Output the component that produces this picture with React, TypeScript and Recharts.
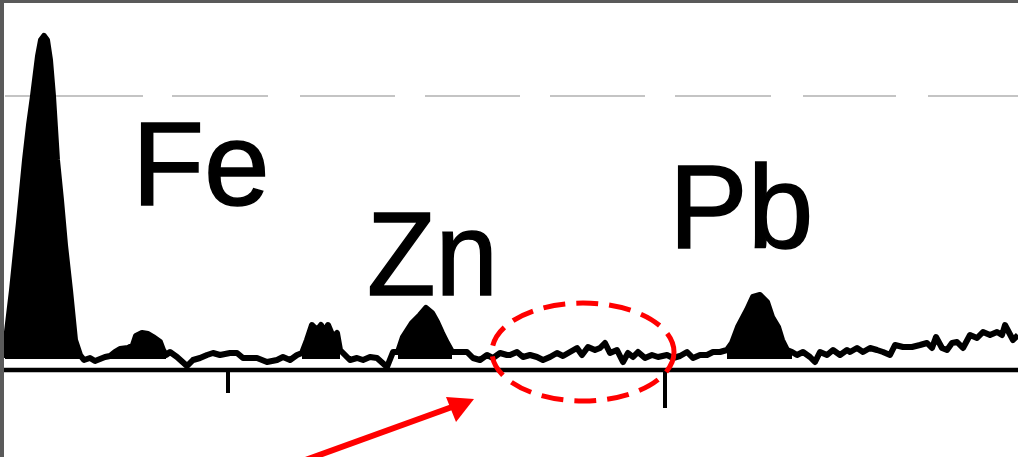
import React from "react";
import { ComposedChart, Line, Area, XAxis, YAxis, ReferenceLine } from "recharts";

// channel positions and counts
const channels = [
  5, 6, 12, 19, 25, 29, 33, 38, 41, 44, 47, 50, 53, 57, 61, 65, 70, 75, 80, 84,
  90, 95, 100, 105, 110, 115, 120, 128, 133, 136, 142, 148, 153, 160, 163, 166, 170,
  177, 187, 193, 200, 207, 213, 220, 230, 237, 243, 250, 257, 267, 277, 283, 290, 297,
  302, 307, 312, 317, 321, 325, 328, 333, 337, 340, 345, 350, 357, 363, 370, 377, 387,
  393, 398, 403, 412, 420, 426, 432, 437, 442, 447, 452, 460, 467, 473, 480, 487, 493,
  500, 507, 510, 517, 523, 530, 537, 543, 550, 557, 563, 570, 577, 582, 588, 595, 600,
  605, 610, 617, 623, 628, 633, 638, 645, 652, 658, 667, 673, 680, 687, 693, 700, 707,
  713, 720, 727, 732, 738, 747, 753, 760, 767, 772, 778, 782, 787, 792, 797, 803, 810,
  815, 820, 827, 833, 840, 847, 850, 857, 863, 870, 877, 883, 890, 895, 903, 912, 920,
  927, 932, 936, 942, 947, 952, 957, 963, 970, 977, 983, 990, 997, 1002, 1005, 1013, 1018,
];
const countsPix = [
  358, 340, 290, 222, 160, 125, 96, 56, 40, 36, 40, 60, 96, 160, 200, 245, 290, 340, 355, 360,
  358, 361, 359, 357, 356, 352, 349, 348, 345, 336, 333, 334, 337, 342, 350, 355, 352,
  357, 366, 360, 358, 355, 353, 355, 353, 353, 358, 358, 358, 362, 360, 357, 360, 355,
  353, 340, 325, 330, 325, 332, 325, 337, 333, 350, 355, 360, 358, 360, 357, 358, 367,
  352, 352, 337, 323, 315, 308, 313, 322, 333, 343, 352, 352, 352, 358, 360, 355, 358,
  353, 355, 355, 352, 357, 355, 357, 360, 357, 353, 356, 352, 348, 355, 347, 350, 348,
  343, 353, 350, 362, 353, 357, 352, 358, 355, 357, 355, 358, 356, 352, 358, 355, 355,
  352, 352, 350, 343, 327, 310, 297, 295, 302, 317, 327, 340, 350, 352, 355, 352, 357,
  362, 352, 355, 350, 355, 350, 352, 348, 352, 348, 350, 352, 355, 345, 347, 347, 345,
  343, 348, 337, 348, 350, 343, 342, 348, 335, 338, 332, 335, 332, 335, 325, 340, 335,
];
// intensities (axis at 0)
const counts = countsPix.map((p) => 370 - p);

// channel ranges of the filled peaks
const peakRanges: [number, number][] = [
  [5, 84],
  [110, 168],
  [300, 342],
  [398, 452],
  [727, 792],
];
const peakBase = 11;

const data = channels.map((x, i) => {
  const inPeak = peakRanges.some(([a, b]) => x >= a && x <= b);
  return { x, counts: counts[i], peak: inPeak ? counts[i] : null };
});

const W = 1018;
const H = 457;

export default function App() {
  return (
    <div style={{ position: "absolute", left: 0, top: 0, width: W, height: H, background: "#fff", overflow: "hidden" }}>
      <svg width={W} height={H} style={{ position: "absolute", left: 0, top: 0 }}>
        <line
          x1={5}
          y1={96}
          x2={W}
          y2={96}
          stroke="#c4c4c4"
          strokeWidth={2}
          strokeDasharray="138 29 96 32 95 30 95 30 95 30 96 32 93 32 200"
        />
      </svg>
      <div style={{ position: "absolute", left: 0, top: 0 }}>
        <ComposedChart width={W} height={H} data={data} margin={{ top: 0, right: 0, bottom: 0, left: 0 }}>
          <XAxis type="number" dataKey="x" domain={[0, 1018]} hide allowDataOverflow />
          <YAxis type="number" domain={[-87, 370]} hide allowDataOverflow />
          <Area
            type="linear"
            dataKey="peak"
            baseValue={peakBase}
            fill="#000"
            fillOpacity={1}
            stroke="#000"
            strokeWidth={1}
            connectNulls={false}
            isAnimationActive={false}
          />
          <Line
            type="linear"
            dataKey="counts"
            stroke="#000"
            strokeWidth={6}
            strokeLinejoin="round"
            dot={false}
            isAnimationActive={false}
          />
          <ReferenceLine y={0} stroke="#000" strokeWidth={4.5} />
          <ReferenceLine segment={[{ x: 228, y: 0 }, { x: 228, y: -23 }]} stroke="#000" strokeWidth={4} />
          <ReferenceLine segment={[{ x: 665, y: 0 }, { x: 665, y: -38 }]} stroke="#000" strokeWidth={4} />
        </ComposedChart>
      </div>
      <svg width={W} height={H} style={{ position: "absolute", left: 0, top: 0, pointerEvents: "none" }}>
        <g fontFamily="'Liberation Sans', Arial, sans-serif" fontSize={118} fill="#000" stroke="#000" strokeWidth={1.5}>
          <text x={132} y={205}>Fe</text>
          <text x={367} y={295} textLength={131} lengthAdjust="spacingAndGlyphs">Zn</text>
          <text x={669} y={248}>Pb</text>
        </g>
        <ellipse cx={583} cy={352} rx={91} ry={49} fill="none" stroke="#ff0000" strokeWidth={5} strokeDasharray="22 11" />
        <line x1={300} y1={462} x2={452} y2={407} stroke="#ff0000" strokeWidth={6} />
        <polygon points="474,399 446,397 456,422" fill="#ff0000" />
      </svg>
      <div style={{ position: "absolute", left: 0, top: 0, width: W, height: 3, background: "#5a5a5a" }} />
      <div style={{ position: "absolute", left: 0, top: 0, width: 4, height: H, background: "#5a5a5a" }} />
    </div>
  );
}
